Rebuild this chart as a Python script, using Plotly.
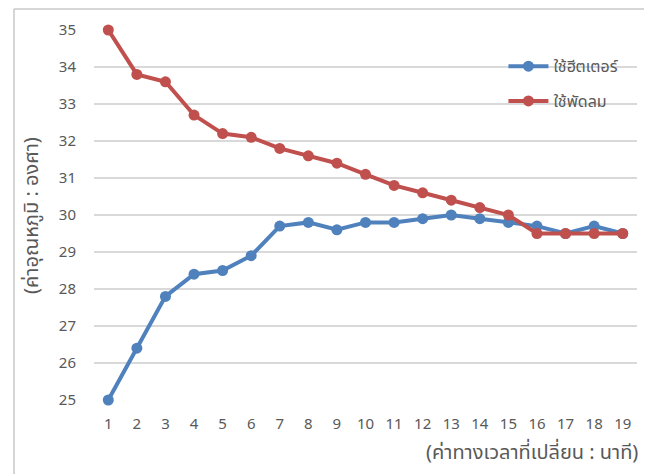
import plotly.graph_objects as go

minutes = list(range(1, 20))
heater = [25.0, 26.4, 27.8, 28.4, 28.5, 28.9, 29.7, 29.8, 29.6, 29.8,
          29.8, 29.9, 30.0, 29.9, 29.8, 29.7, 29.5, 29.7, 29.5]
fan = [35.0, 33.8, 33.6, 32.7, 32.2, 32.1, 31.8, 31.6, 31.4, 31.1,
       30.8, 30.6, 30.4, 30.2, 30.0, 29.5, 29.5, 29.5, 29.5]
series_names = ["ใช้ฮีตเตอร์", "ใช้พัดลม"]
y_ticks = list(range(25, 36))
x_title = "(ค่าทางเวลาที่เปลี่ยน : นาที)"
y_title = "(ค่าอุณหภูมิ : องศา)"

FONT = "Noto Sans, Noto Sans Thai, Liberation Sans, sans-serif"
GRAY = "#595959"

fig = go.Figure()
fig.add_trace(go.Scatter(x=minutes, y=heater, name=series_names[0], mode="lines+markers",
                         legendgroup="a", cliponaxis=False,
                         line=dict(color="#4F81BD", width=4),
                         marker=dict(color="#4F81BD", size=11)))
fig.add_trace(go.Scatter(x=minutes, y=fan, name=series_names[1], mode="lines+markers",
                         legendgroup="b", cliponaxis=False,
                         line=dict(color="#C0504D", width=4),
                         marker=dict(color="#C0504D", size=11)))

fig.update_layout(
    width=644, height=466,
    margin=dict(l=86, r=15, t=22, b=74),
    paper_bgcolor="white", plot_bgcolor="white",
    font=dict(family=FONT, size=14, color=GRAY),
    showlegend=True,
    legend=dict(x=0.754, y=0.948, xanchor="left", yanchor="top",
                bgcolor="rgba(0,0,0,0)", font=dict(size=16, color=GRAY),
                tracegroupgap=11, traceorder="grouped", itemwidth=40),
    xaxis=dict(range=[0.5, 19.5], tickmode="array", tickvals=minutes,
               ticktext=[str(m) for m in minutes], showgrid=False,
               zeroline=False, showline=False, ticks="outside", ticklen=10,
               tickcolor="rgba(0,0,0,0)",
               tickfont=dict(size=15, color=GRAY)),
    yaxis=dict(range=[25, 35], tickmode="array", tickvals=y_ticks,
               showgrid=True, gridcolor="#D9D9D9", gridwidth=1.5,
               zeroline=False, showline=False, ticks="outside", ticklen=14,
               tickcolor="rgba(0,0,0,0)",
               tickfont=dict(size=15, color=GRAY)),
    annotations=[
        dict(text=x_title, xref="paper", yref="paper", x=1.005, y=-0.098,
             xanchor="right", yanchor="top", showarrow=False,
             font=dict(size=20, color=GRAY)),
        dict(text=y_title, xref="paper", yref="paper", x=-0.118, y=0.5,
             xanchor="center", yanchor="middle", showarrow=False, textangle=-90,
             font=dict(size=20, color=GRAY)),
    ],
    shapes=[
        dict(type="line", xref="paper", yref="paper", x0=-0.1473, x1=-0.1473,
             y0=-0.25, y1=1.0568, line=dict(color="#C8C8C8", width=1.5)),
        dict(type="line", xref="paper", yref="paper", x0=1.0166, x1=1.0166,
             y0=-0.25, y1=1.0568, line=dict(color="#C8C8C8", width=1.5)),
        dict(type="line", xref="paper", yref="paper", x0=-0.1473, x1=1.0166,
             y0=1.0568, y1=1.0568, line=dict(color="#C8C8C8", width=1.5)),
    ],
)

fig.write_html("out.html")
